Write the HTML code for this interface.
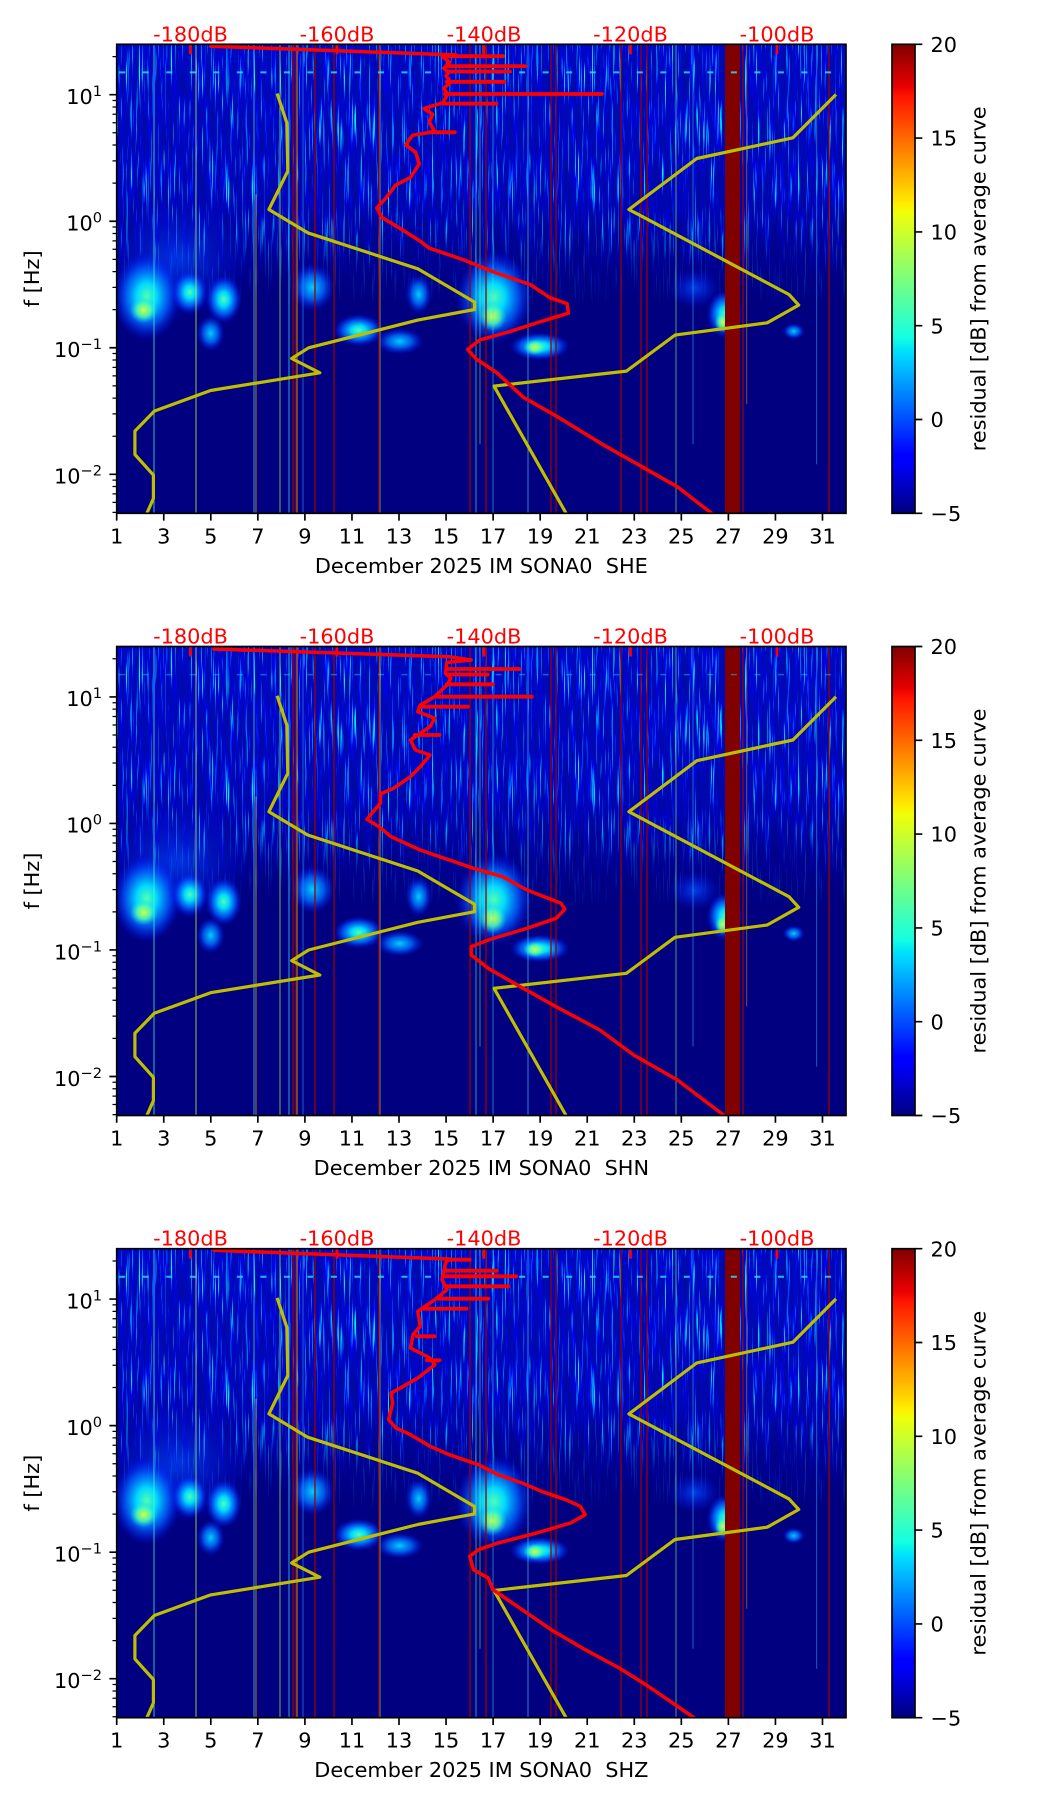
<!DOCTYPE html>
<html><head><meta charset="utf-8">
<style>
html,body{margin:0;padding:0;background:#fff;}
svg{display:block;}
text{font-family:"DejaVu Sans","Liberation Sans",sans-serif;font-size:20.83px;fill:#000;}
.r{fill:#ff0000;}
</style></head><body>
<svg width="1052" height="1806" viewBox="0 0 1052 1806">
<defs>
<linearGradient id="jet" x1="0" y1="1" x2="0" y2="0">
<stop offset="0" stop-color="#000080"/><stop offset="0.11" stop-color="#0000ff"/><stop offset="0.125" stop-color="#0000ff"/>
<stop offset="0.34" stop-color="#00dbff"/><stop offset="0.35" stop-color="#00e5f7"/><stop offset="0.375" stop-color="#14ffe2"/>
<stop offset="0.64" stop-color="#efff08"/><stop offset="0.66" stop-color="#ffec00"/><stop offset="0.89" stop-color="#ff1300"/>
<stop offset="0.91" stop-color="#e80000"/><stop offset="1" stop-color="#800000"/>
</linearGradient>
<radialGradient id="bHi"><stop offset="0" stop-color="#50ffb0"/><stop offset="0.3" stop-color="#00d8ff"/><stop offset="0.65" stop-color="#0060ff" stop-opacity="0.8"/><stop offset="1" stop-color="#0010ff" stop-opacity="0"/></radialGradient>
<radialGradient id="bMed"><stop offset="0" stop-color="#00d0ff"/><stop offset="0.5" stop-color="#0070ff" stop-opacity="0.8"/><stop offset="1" stop-color="#0010ff" stop-opacity="0"/></radialGradient>
<radialGradient id="bLow"><stop offset="0" stop-color="#0050ff" stop-opacity="0.8"/><stop offset="1" stop-color="#0010ff" stop-opacity="0"/></radialGradient>
<radialGradient id="bCore"><stop offset="0" stop-color="#d0ff40"/><stop offset="0.5" stop-color="#60ffa0" stop-opacity="0.8"/><stop offset="1" stop-color="#00e0ff" stop-opacity="0"/></radialGradient>
<linearGradient id="ug" x1="0" y1="0" x2="0" y2="1">
<stop offset="0" stop-color="#ffffff"/><stop offset="0.6" stop-color="#e6e6e6"/><stop offset="0.8" stop-color="#737373"/><stop offset="1" stop-color="#000000"/>
</linearGradient>
<linearGradient id="tint" x1="0" y1="0" x2="0" y2="1">
<stop offset="0" stop-color="#0018e0" stop-opacity="0.45"/><stop offset="0.65" stop-color="#0018e0" stop-opacity="0.35"/><stop offset="1" stop-color="#0018e0" stop-opacity="0"/>
</linearGradient>
<mask id="um" maskUnits="userSpaceOnUse" x="0" y="0" width="729.3" height="260"><rect width="729.3" height="260" fill="url(#ug)"/></mask>
<filter id="tx" filterUnits="userSpaceOnUse" x="0" y="0" width="729.3" height="260" color-interpolation-filters="sRGB">
<feTurbulence type="fractalNoise" baseFrequency="0.7 0.018" numOctaves="2" seed="7"/>
<feColorMatrix type="matrix" values="0 0 0 0 0  7 0 0 0 -4.3  0 0 0 0 1  5 0 0 0 -2.2"/>
</filter>
<clipPath id="cp"><rect width="729.3" height="469"/></clipPath>

<g id="spec">
<g clip-path="url(#cp)">
<rect width="729.3" height="469" fill="#000080"/>
<rect width="729.3" height="230" fill="url(#tint)"/>
<ellipse cx="60" cy="215" rx="75" ry="60" fill="url(#bLow)" opacity="0.9"/>
<rect width="729.3" height="260" fill="#fff" filter="url(#tx)" mask="url(#um)"/>
<ellipse cx="30" cy="252" rx="34" ry="44" fill="url(#bHi)"/>
<ellipse cx="27" cy="266" rx="14" ry="13" fill="url(#bCore)"/>
<ellipse cx="73" cy="248" rx="18" ry="22" fill="url(#bHi)"/>
<ellipse cx="107" cy="255" rx="18" ry="24" fill="url(#bHi)"/>
<ellipse cx="94" cy="289" rx="14" ry="18" fill="url(#bMed)"/>
<ellipse cx="196" cy="243" rx="22" ry="24" fill="url(#bMed)"/>
<ellipse cx="242" cy="286" rx="25" ry="16" fill="url(#bHi)"/>
<ellipse cx="283" cy="297" rx="24" ry="13" fill="url(#bMed)"/>
<ellipse cx="302" cy="250" rx="13" ry="20" fill="url(#bMed)"/>
<ellipse cx="377" cy="253" rx="38" ry="46" fill="url(#bHi)"/>
<ellipse cx="376" cy="272" rx="14" ry="15" fill="url(#bCore)"/>
<ellipse cx="423" cy="302" rx="30" ry="14" fill="url(#bHi)"/>
<ellipse cx="418" cy="303" rx="11" ry="8" fill="url(#bCore)"/>
<ellipse cx="578" cy="244" rx="26" ry="20" fill="url(#bLow)"/>
<ellipse cx="608" cy="270" rx="18" ry="24" fill="url(#bHi)"/>
<ellipse cx="606" cy="278" rx="8" ry="10" fill="url(#bCore)"/>
<ellipse cx="677" cy="287" rx="11" ry="8" fill="url(#bMed)"/>
<g stroke-width="1" fill="none">
<path d="M37.3,0V469" stroke="#40ffd0" opacity="0.75"/>
<path d="M79.3,0V469" stroke="#c0ff40" opacity="0.75"/>
<path d="M137.3,0V469" stroke="#40e0ff" opacity="0.7"/>
<path d="M139.3,150V469" stroke="#ffb000" opacity="0.7"/>
<path d="M163.3,0V469" stroke="#a0ff50" opacity="0.7"/>
<path d="M172.3,0V469" stroke="#40f0ff" opacity="0.7"/>
<path d="M180.3,0V469" stroke="#ffe000" opacity="0.7"/>
<path d="M186.3,0V469" stroke="#3080ff" opacity="0.7"/>
<path d="M263.3,0V469" stroke="#80ff80" opacity="0.6"/>
<path d="M359.3,0V469" stroke="#40ffd0" opacity="0.6"/>
<path d="M363.3,0V400" stroke="#a0ff40" opacity="0.5"/>
<path d="M376.3,0V469" stroke="#40e0ff" opacity="0.5"/>
<path d="M411.3,0V469" stroke="#40e0ff" opacity="0.6"/>
<path d="M559.3,0V469" stroke="#80ff80" opacity="0.6"/>
<path d="M576.3,0V400" stroke="#40c0ff" opacity="0.5"/>
<path d="M630,0V360" stroke="#ffa000" opacity="0.5"/>
<path d="M700,0V420" stroke="#40c0ff" opacity="0.5"/>
<path d="M176.3,0V469M179.3,0V469M198.3,0V469M217.3,0V469M262.3,0V469M353.3,0V469M369.3,0V469M434.3,0V469M439.3,0V469M504.3,0V469M524.3,0V469M530.3,0V469M626.3,0V469M712.3,0V469" stroke="#9a0000" stroke-width="1.3"/>
</g>
<rect x="608.3" y="0" width="15" height="469" fill="#800000"/>
<g fill="none" stroke="#bfbf00" stroke-width="3.2" stroke-linejoin="round">
<path d="M160.4,49.2 L170.1,78.5 L171.1,126.8 L152.2,165.2 L191,188.5 L301.1,224.5 L357.9,257.8 L357.9,265.2 L301.1,275.8 L191.9,303.5 L175,314.2 L203.1,328.5 L93.9,346.2 L37.6,366.8 L18.2,386.8 L18.2,410.2 L36.7,430.8 L36.7,454.2 L30.4,468.5 L29,473"/>
<path d="M719.3,50.2 L676.2,93.5 L580.1,114.2 L512.2,165.2 L672.3,250.2 L682,260.8 L650.5,278.5 L558.3,290.8 L509.7,326.8 L377.3,341.8 L449.1,468.5 L451,473"/>
</g>
</g>
</g>

<g id="ax">
<g fill="#ff0000"><rect x="72.4" y="0" width="2.7" height="10"/><rect x="218.9" y="0" width="2.7" height="10"/><rect x="365.9" y="0" width="2.7" height="10"/><rect x="512.4" y="0" width="2.7" height="10"/><rect x="658.9" y="0" width="2.7" height="10"/></g>
<rect x="0" y="0" width="729.3" height="469" fill="none" stroke="#000" stroke-width="1.67"/>
<path d="M-7.3,50.4H0M-7.3,176.93H0M-7.3,303.46H0M-7.3,429.99H0" stroke="#000" stroke-width="1.67"/>
<path d="M-4.2,12.31H0M-4.2,56.19H0M-4.2,62.66H0M-4.2,70H0M-4.2,78.47H0M-4.2,88.49H0M-4.2,100.75H0M-4.2,116.56H0M-4.2,138.84H0M-4.2,182.72H0M-4.2,189.19H0M-4.2,196.53H0M-4.2,205H0M-4.2,215.02H0M-4.2,227.28H0M-4.2,243.09H0M-4.2,265.37H0M-4.2,309.25H0M-4.2,315.72H0M-4.2,323.06H0M-4.2,331.53H0M-4.2,341.55H0M-4.2,353.81H0M-4.2,369.62H0M-4.2,391.9H0M-4.2,435.78H0M-4.2,442.25H0M-4.2,449.59H0M-4.2,458.06H0M-4.2,468.08H0" stroke="#000" stroke-width="1.25"/>
<path d="M0,469V476.3M47.05,469V476.3M94.1,469V476.3M141.16,469V476.3M188.21,469V476.3M235.26,469V476.3M282.31,469V476.3M329.36,469V476.3M376.42,469V476.3M423.47,469V476.3M470.52,469V476.3M517.57,469V476.3M564.62,469V476.3M611.68,469V476.3M658.73,469V476.3M705.78,469V476.3" stroke="#000" stroke-width="1.67"/>
<rect x="775.3" y="0" width="23" height="469" fill="url(#jet)" stroke="#000" stroke-width="1.67"/>
<path d="M798.3,0H805.6M798.3,93.8H805.6M798.3,187.6H805.6M798.3,281.4H805.6M798.3,375.2H805.6M798.3,469H805.6" stroke="#000" stroke-width="1.67"/>
</g>
</defs>

<rect width="1052" height="1806" fill="#fff"/>

<!-- PANEL 1 -->
<g transform="translate(116.7,44.3)">
<use href="#spec"/>
<g clip-path="url(#cp)">
<line x1="0" y1="28.1" x2="729.3" y2="28.1" stroke="#30e8ff" stroke-width="2" stroke-dasharray="6 17.526" stroke-dashoffset="21.03" opacity="0.8"/>
<g fill="none" stroke="#ff0000" stroke-linejoin="round" stroke-linecap="round">
<path stroke-width="3.5" d="M94.1,1.9 L339.5,10.7 L326,12.6 L333,18 L327,24 L332,28 L329.4,31.7 L334,38 L327,44 L331,50 L326,58.5 L307.2,64.3 L316,70 L312.6,77.6 L317.9,87.2 L295.8,91 L289,100.6 L299.1,108.2 L302.5,119.7 L293.8,133.1 L279,140.8 L268.9,154.1 L260.1,163.7 L265.5,173.3 L284.3,184.7 L302.5,196.2 L312.6,203.9 L346.2,215.3 L379.8,228.7 L413.4,240.2 L433.6,253.6 L450.4,259.3 L451.7,268.9 L420.1,278.5 L393.2,287.3 L363,295.7 L350.9,305.2 L359.6,314.8 L379.8,328.2 L406.7,353 L440.3,372.2 L487.3,400.9 L524.3,421.9 L561.3,442.9 L594.9,469 L600,475"/>
<path stroke-width="3.8" d="M328,11.9H386.5M330,21.8H408.7M330,27.2H393.3M330,37.5H387.9M328,49.7H485.3M326,59.3H379.8M312,88H338.1"/>
</g>
</g>
<use href="#ax"/>
<g text-anchor="middle"><text class="r" x="73.8" y="-3">-180dB</text><text class="r" x="220.3" y="-3">-160dB</text><text class="r" x="367.3" y="-3">-140dB</text><text class="r" x="513.8" y="-3">-120dB</text><text class="r" x="660.3" y="-3">-100dB</text></g>
<g text-anchor="middle"><text x="0" y="499">1</text><text x="47.05" y="499">3</text><text x="94.1" y="499">5</text><text x="141.16" y="499">7</text><text x="188.21" y="499">9</text><text x="235.26" y="499">11</text><text x="282.31" y="499">13</text><text x="329.36" y="499">15</text><text x="376.42" y="499">17</text><text x="423.47" y="499">19</text><text x="470.52" y="499">21</text><text x="517.57" y="499">23</text><text x="564.62" y="499">25</text><text x="611.68" y="499">27</text><text x="658.73" y="499">29</text><text x="705.78" y="499">31</text></g>
<text x="364.65" y="528.5" text-anchor="middle">December 2025 IM SONA0&#160; SHE</text>
<g text-anchor="end"><text x="-14.7" y="59.7">10<tspan font-size="14.6" dy="-8">1</tspan></text><text x="-14.7" y="186.2">10<tspan font-size="14.6" dy="-8">0</tspan></text><text x="-14.7" y="312.8">10<tspan font-size="14.6" dy="-8">−1</tspan></text><text x="-14.7" y="439.3">10<tspan font-size="14.6" dy="-8">−2</tspan></text></g>
<text transform="translate(-77.7,234.5) rotate(-90)" text-anchor="middle">f [Hz]</text>
<g><text x="813.8" y="7.6">20</text><text x="813.8" y="101.4">15</text><text x="813.8" y="195.2">10</text><text x="813.8" y="289">5</text><text x="813.8" y="382.8">0</text><text x="813.8" y="476.6">−5</text></g>
<text transform="translate(869,234.5) rotate(-90)" text-anchor="middle">residual [dB] from average curve</text>
</g>

<!-- PANEL 2 -->
<g transform="translate(116.7,646.5)">
<use href="#spec"/>
<g clip-path="url(#cp)">
<line x1="0" y1="28.1" x2="729.3" y2="28.1" stroke="#30e8ff" stroke-width="1.5" stroke-dasharray="6 17.526" stroke-dashoffset="21.03" opacity="0.4"/>
<g fill="none" stroke="#ff0000" stroke-linejoin="round" stroke-linecap="round">
<path stroke-width="3.5" d="M97.3,2.5 L332.6,10.2 L354.5,13.5 L330,16 L328.8,26.8 L334,32 L330.3,38.5 L318.1,50.2 L303.5,58.5 L301.1,65.2 L318.1,71.8 L313.3,80.2 L293.8,93.5 L298.7,103.5 L313.3,108.5 L303.5,120.2 L293.8,130.2 L276.8,141.8 L263.7,147.5 L263.7,156.8 L255,166.8 L250.2,172.8 L262.3,180.2 L274.4,190.2 L303.5,203.5 L332.6,213.5 L356.9,221.8 L386,230.2 L410.3,243.5 L444.3,256.8 L448.1,262.8 L439.4,271.8 L410.3,281.8 L371.5,293.5 L354.5,300.2 L354.5,308.5 L371.5,321.8 L400.6,338.5 L439.4,360.2 L483.1,383.5 L517,408.5 L560.7,433.5 L606.8,468.5 L611,475"/>
<path stroke-width="3.8" d="M330,22.5H403M330,28H371M330,37.8H376.3M320,50.2H415.1M305,60.2H351.1M298,88.5H322.9"/>
</g>
</g>
<use href="#ax"/>
<g text-anchor="middle"><text class="r" x="73.8" y="-3">-180dB</text><text class="r" x="220.3" y="-3">-160dB</text><text class="r" x="367.3" y="-3">-140dB</text><text class="r" x="513.8" y="-3">-120dB</text><text class="r" x="660.3" y="-3">-100dB</text></g>
<g text-anchor="middle"><text x="0" y="499">1</text><text x="47.05" y="499">3</text><text x="94.1" y="499">5</text><text x="141.16" y="499">7</text><text x="188.21" y="499">9</text><text x="235.26" y="499">11</text><text x="282.31" y="499">13</text><text x="329.36" y="499">15</text><text x="376.42" y="499">17</text><text x="423.47" y="499">19</text><text x="470.52" y="499">21</text><text x="517.57" y="499">23</text><text x="564.62" y="499">25</text><text x="611.68" y="499">27</text><text x="658.73" y="499">29</text><text x="705.78" y="499">31</text></g>
<text x="364.65" y="528.5" text-anchor="middle">December 2025 IM SONA0&#160; SHN</text>
<g text-anchor="end"><text x="-14.7" y="59.7">10<tspan font-size="14.6" dy="-8">1</tspan></text><text x="-14.7" y="186.2">10<tspan font-size="14.6" dy="-8">0</tspan></text><text x="-14.7" y="312.8">10<tspan font-size="14.6" dy="-8">−1</tspan></text><text x="-14.7" y="439.3">10<tspan font-size="14.6" dy="-8">−2</tspan></text></g>
<text transform="translate(-77.7,234.5) rotate(-90)" text-anchor="middle">f [Hz]</text>
<g><text x="813.8" y="7.6">20</text><text x="813.8" y="101.4">15</text><text x="813.8" y="195.2">10</text><text x="813.8" y="289">5</text><text x="813.8" y="382.8">0</text><text x="813.8" y="476.6">−5</text></g>
<text transform="translate(869,234.5) rotate(-90)" text-anchor="middle">residual [dB] from average curve</text>
</g>

<!-- PANEL 3 -->
<g transform="translate(116.7,1248.7)">
<use href="#spec"/>
<g clip-path="url(#cp)">
<line x1="0" y1="28.1" x2="729.3" y2="28.1" stroke="#30e8ff" stroke-width="2" stroke-dasharray="6 17.526" stroke-dashoffset="21.03" opacity="0.8"/>
<g fill="none" stroke="#ff0000" stroke-linejoin="round" stroke-linecap="round">
<path stroke-width="3.5" d="M97.3,1.6 L332.6,10.3 L328.8,14.3 L325.3,31 L330.3,41 L318.1,51 L301.1,62.6 L303.5,77.6 L296.3,86 L293.8,99.3 L313.3,109.3 L318.1,116 L301.1,129.3 L286.6,137.6 L274.4,144.3 L275.9,154.3 L272,171 L279.3,179.3 L293.8,186 L313.3,197.6 L332.6,206 L361.8,216 L381.2,226 L405.4,234.3 L424.8,242.6 L449.1,251 L463.6,257.6 L468.5,266 L453.9,274.3 L420,284.3 L381.2,294.3 L361.8,301 L353,307.6 L356.9,321 L371.5,329.3 L376.3,341 L405.4,361 L434.5,381 L468.5,401 L502.5,419.3 L531.6,437.6 L577.7,469.3 L582,475"/>
<path stroke-width="3.8" d="M330,11H353M328,22H380.2M328,27.6H399.6M328,37.6H391.8M322,50H371.5M305,60H349.6M300,87.6H318.1M310,111.6H322.9"/>
</g>
</g>
<use href="#ax"/>
<g text-anchor="middle"><text class="r" x="73.8" y="-3">-180dB</text><text class="r" x="220.3" y="-3">-160dB</text><text class="r" x="367.3" y="-3">-140dB</text><text class="r" x="513.8" y="-3">-120dB</text><text class="r" x="660.3" y="-3">-100dB</text></g>
<g text-anchor="middle"><text x="0" y="499">1</text><text x="47.05" y="499">3</text><text x="94.1" y="499">5</text><text x="141.16" y="499">7</text><text x="188.21" y="499">9</text><text x="235.26" y="499">11</text><text x="282.31" y="499">13</text><text x="329.36" y="499">15</text><text x="376.42" y="499">17</text><text x="423.47" y="499">19</text><text x="470.52" y="499">21</text><text x="517.57" y="499">23</text><text x="564.62" y="499">25</text><text x="611.68" y="499">27</text><text x="658.73" y="499">29</text><text x="705.78" y="499">31</text></g>
<text x="364.65" y="528.5" text-anchor="middle">December 2025 IM SONA0&#160; SHZ</text>
<g text-anchor="end"><text x="-14.7" y="59.7">10<tspan font-size="14.6" dy="-8">1</tspan></text><text x="-14.7" y="186.2">10<tspan font-size="14.6" dy="-8">0</tspan></text><text x="-14.7" y="312.8">10<tspan font-size="14.6" dy="-8">−1</tspan></text><text x="-14.7" y="439.3">10<tspan font-size="14.6" dy="-8">−2</tspan></text></g>
<text transform="translate(-77.7,234.5) rotate(-90)" text-anchor="middle">f [Hz]</text>
<g><text x="813.8" y="7.6">20</text><text x="813.8" y="101.4">15</text><text x="813.8" y="195.2">10</text><text x="813.8" y="289">5</text><text x="813.8" y="382.8">0</text><text x="813.8" y="476.6">−5</text></g>
<text transform="translate(869,234.5) rotate(-90)" text-anchor="middle">residual [dB] from average curve</text>
</g>
</svg>
</body></html>
